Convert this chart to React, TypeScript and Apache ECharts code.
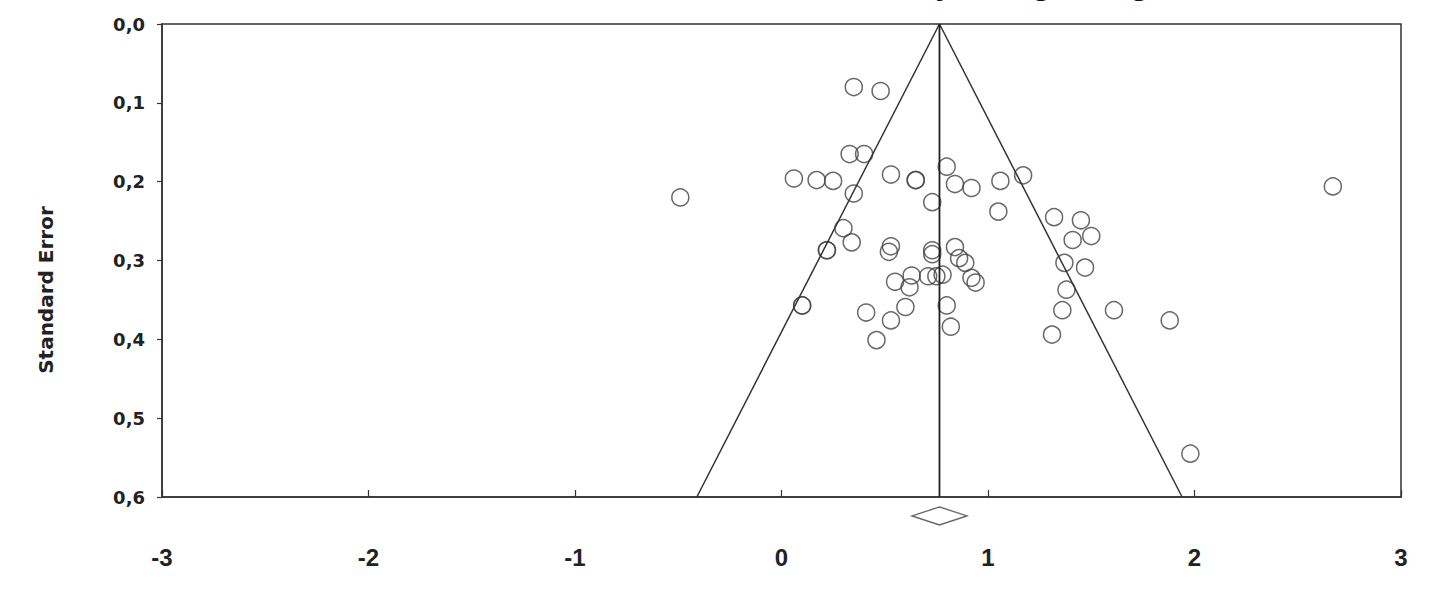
import React, { useEffect, useRef } from "react";
import * as echarts from "echarts";

const titleText = "Funnel Plot of Standard Error by Hedges's g";
const yAxisName = "Standard Error";
const xTicks = [-3, -2, -1, 0, 1, 2, 3];
const yTicks = [0, 0.1, 0.2, 0.3, 0.4, 0.5, 0.6];

// Study points: [effect, standard error]
const studies: number[][] = [
  [0.35, 0.080], [0.48, 0.085], [0.33, 0.165], [0.40, 0.165], [0.80, 0.181],
  [0.06, 0.196], [0.17, 0.198], [0.25, 0.199], [0.53, 0.191], [0.65, 0.198],
  [0.65, 0.198], [0.84, 0.203], [0.92, 0.208], [1.06, 0.199], [1.17, 0.192],
  [0.35, 0.215], [0.73, 0.226], [-0.49, 0.220], [1.05, 0.238], [2.67, 0.206],
  [1.32, 0.245], [1.45, 0.249], [1.41, 0.274], [1.50, 0.269], [0.30, 0.259],
  [0.34, 0.277], [0.22, 0.287], [0.22, 0.287], [0.53, 0.282], [0.52, 0.289],
  [0.73, 0.287], [0.73, 0.292], [0.84, 0.283], [0.86, 0.297], [0.89, 0.303],
  [0.92, 0.322], [0.94, 0.328], [0.63, 0.319], [0.71, 0.320], [0.75, 0.320],
  [0.78, 0.318], [0.55, 0.327], [0.62, 0.334], [1.37, 0.303], [1.47, 0.309],
  [1.38, 0.337], [1.36, 0.363], [1.31, 0.394], [1.61, 0.363], [1.88, 0.376],
  [0.10, 0.357], [0.10, 0.357], [0.80, 0.357], [0.82, 0.384], [0.41, 0.366],
  [0.60, 0.359], [0.53, 0.376], [0.46, 0.401], [1.98, 0.545],
];

const centerLine: number[][] = [[0.765, 0], [0.765, 0.6]];
const funnelLeft: number[][] = [[0.765, 0], [-0.41, 0.6]];
const funnelRight: number[][] = [[0.765, 0], [1.94, 0.6]];
const summaryDiamond: number[][] = [[0.765, 0.624]];

const ARIAL = "'Liberation Sans', Arial, sans-serif";
const WIDE = "'DejaVu Sans', sans-serif";

export default function App() {
  const ref = useRef<HTMLDivElement>(null);
  useEffect(() => {
    if (!ref.current) return;
    const chart = echarts.init(ref.current, undefined, { renderer: "svg" });
    const lineStyle = { color: "#333", width: 1.5 };
    chart.setOption({
      animation: false,
      backgroundColor: "#ffffff",
      graphic: [
        {
          type: "text",
          x: 782,
          y: -19,
          style: {
            text: titleText,
            fontFamily: ARIAL,
            fontWeight: "bold",
            fontSize: 35,
            fill: "#111",
            textAlign: "center",
            textVerticalAlign: "middle",
          },
        },
        {
          type: "text",
          x: 46,
          y: 290,
          rotation: Math.PI / 2,
          style: {
            text: yAxisName,
            fontFamily: WIDE,
            fontWeight: "bold",
            fontSize: 20,
            fill: "#222",
            textAlign: "center",
            textVerticalAlign: "middle",
          },
        },
      ],
      grid: {
        left: 162,
        right: 28,
        top: 24,
        bottom: 103,
        show: true,
        borderColor: "#333",
        borderWidth: 1.5,
        backgroundColor: "transparent",
      },
      xAxis: {
        type: "value",
        min: xTicks[0],
        max: xTicks[xTicks.length - 1],
        interval: 1,
        splitLine: { show: false },
        axisLine: { show: true, onZero: false, lineStyle: { color: "#333", width: 1.5 } },
        axisTick: { show: true, inside: true, length: 7, lineStyle: { color: "#333", width: 1.2 } },
        axisLabel: {
          margin: 48,
          fontFamily: ARIAL,
          fontWeight: "bold",
          fontSize: 24,
          color: "#222",
        },
      },
      yAxis: {
        type: "value",
        inverse: true,
        min: yTicks[0],
        max: yTicks[yTicks.length - 1],
        interval: 0.1,
        splitLine: { show: false },
        axisLine: { show: true, onZero: false, lineStyle: { color: "#333", width: 1.5 } },
        axisTick: { show: true, inside: false, length: 5, lineStyle: { color: "#333", width: 1.2 } },
        axisLabel: {
          margin: 17,
          fontFamily: WIDE,
          fontWeight: "bold",
          fontSize: 18,
          color: "#222",
          formatter: (v: number) => v.toFixed(1).replace(".", ","),
        },
      },
      series: [
        { type: "line", data: funnelLeft, symbol: "none", lineStyle, silent: true },
        { type: "line", data: funnelRight, symbol: "none", lineStyle, silent: true },
        { type: "line", data: centerLine, symbol: "none", lineStyle: { color: "#222", width: 1.8 }, silent: true },
        {
          type: "scatter",
          data: studies,
          symbol: "circle",
          symbolSize: 17,
          itemStyle: { color: "rgba(0,0,0,0)", borderColor: "#444", borderWidth: 1.5 },
        },
        {
          type: "scatter",
          data: summaryDiamond,
          symbol: "diamond",
          symbolSize: [55, 18],
          clip: false,
          itemStyle: { color: "#fff", borderColor: "#444", borderWidth: 1.8 },
        },
      ],
    });
    return () => chart.dispose();
  }, []);
  return (
    <div
      ref={ref}
      style={{ position: "absolute", left: 0, top: 0, width: 1429, height: 600, background: "#fff" }}
    />
  );
}
